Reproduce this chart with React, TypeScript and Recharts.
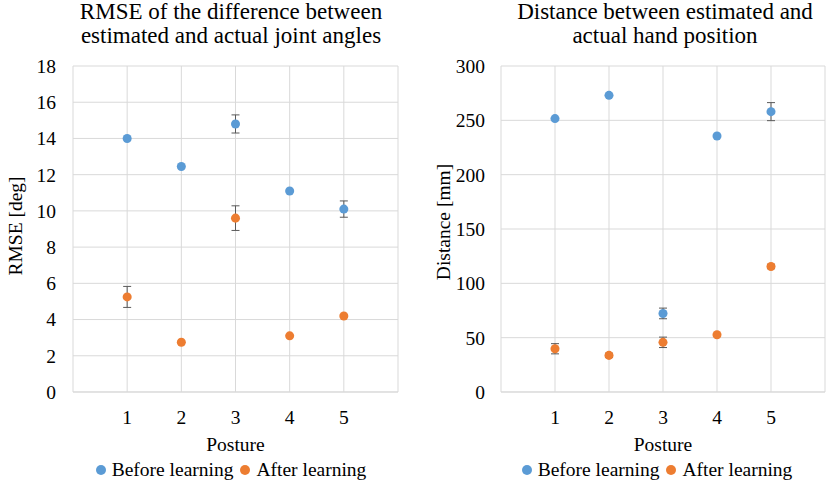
import {
  CartesianGrid,
  ErrorBar,
  Legend,
  Scatter,
  ScatterChart,
  XAxis,
  YAxis,
  ZAxis,
} from "recharts";

const postures = [1, 2, 3, 4, 5];
const xTicks = [0, 1, 2, 3, 4, 5, 6];

const rmseTicks = [0, 2, 4, 6, 8, 10, 12, 14, 16, 18];
const rmseBefore = [14.0, 12.45, 14.8, 11.1, 10.1];
const rmseBeforeErr = [0, 0, 0.5, 0, 0.45];
const rmseAfter = [5.25, 2.75, 9.6, 3.1, 4.2];
const rmseAfterErr = [0.58, 0, 0.68, 0, 0];

const distTicks = [0, 50, 100, 150, 200, 250, 300];
const distBefore = [251.6, 273, 72.3, 235.6, 258];
const distBeforeErr = [0, 0, 4.9, 0, 8.3];
const distAfter = [39.8, 33.7, 45.7, 52.7, 115.5];
const distAfterErr = [4.7, 2, 4.8, 0, 2];

const BLUE = "#5B9BD5";
const ORANGE = "#ED7D31";
const GRID = "#D9D9D9";
const FONT = "Liberation Serif, Times New Roman, serif";
const TEXT = 19.5;

function toPoints(values: number[], errors: number[]) {
  return postures.map((x, i) => ({ x, y: values[i], err: errors[i] }));
}

function LegendContent() {
  const items = [
    { label: "Before learning", color: BLUE },
    { label: "After learning", color: ORANGE },
  ];
  return (
    <div
      style={{
        display: "flex",
        justifyContent: "center",
        alignItems: "center",
        fontFamily: FONT,
        fontSize: TEXT,
        lineHeight: "22px",
        color: "#000",
        whiteSpace: "nowrap",
      }}
    >
      {items.map((item, i) => (
        <span
          key={item.label}
          style={{
            display: "flex",
            alignItems: "center",
            marginLeft: i ? 7 : 0,
            fontFamily: FONT,
          }}
        >
          <svg width={10} height={10} style={{ marginRight: 6 }}>
            <circle cx={5} cy={5} r={5} fill={item.color} />
          </svg>
          {item.label}
        </span>
      ))}
    </div>
  );
}

type PanelProps = {
  yLabel: string;
  yTicks: number[];
  yMax: number;
  yAxisWidth: number;
  rightMargin: number;
  tickGap: number;
  labelX: number;
  labelShift: number;
  legendLeft: number;
  before: { x: number; y: number; err: number }[];
  after: { x: number; y: number; err: number }[];
};

function Panel(props: PanelProps) {
  const tick = { fontFamily: FONT, fontSize: TEXT, fill: "#000" };

  const renderYLabel = (p: any) => {
    const vb = p.viewBox || { x: 0, y: 66, width: props.yAxisWidth, height: 326 };
    const x = vb.x + props.labelX;
    const y = vb.y + vb.height / 2 - props.labelShift;
    return (
      <text
        x={x}
        y={y}
        transform={`rotate(-90, ${x}, ${y})`}
        textAnchor="middle"
        style={{ fontFamily: FONT, fontSize: TEXT }}
        fill="#000"
      >
        {props.yLabel}
      </text>
    );
  };

  const renderXLabel = (p: any) => {
    const vb = p.viewBox || { x: props.yAxisWidth, y: 392, width: 325, height: 93 };
    return (
      <text
        x={vb.x + vb.width / 2}
        y={vb.y + 58.5}
        textAnchor="middle"
        style={{ fontFamily: FONT, fontSize: TEXT }}
        fill="#000"
      >
        Posture
      </text>
    );
  };

  return (
    <ScatterChart
      width={415}
      height={485}
      margin={{ top: 66, right: props.rightMargin, bottom: 0, left: 0 }}
      style={{ fontFamily: FONT }}
    >
      <CartesianGrid stroke={GRID} strokeWidth={1} />
      <XAxis
        type="number"
        dataKey="x"
        domain={[0, 6]}
        ticks={xTicks}
        interval={0}
        tickFormatter={(v: number) => (v === 0 || v === 6 ? "" : String(v))}
        axisLine={{ stroke: GRID }}
        tickLine={false}
        tickSize={0}
        tickMargin={18}
        height={93}
        tick={tick}
        label={{ value: "Posture", content: renderXLabel }}
      />
      <YAxis
        type="number"
        dataKey="y"
        domain={[0, props.yMax]}
        ticks={props.yTicks}
        interval={0}
        axisLine={false}
        tickLine={false}
        tickSize={0}
        tickMargin={props.tickGap}
        width={props.yAxisWidth}
        tick={tick}
        label={{ value: props.yLabel, content: renderYLabel }}
      />
      <ZAxis range={[88, 88]} />
      <Legend
        layout="horizontal"
        verticalAlign="middle"
        align="center"
        content={<LegendContent />}
        wrapperStyle={{ left: props.legendLeft, top: 459, width: 380, fontFamily: FONT }}
      />
      <Scatter
        name="Before learning"
        data={props.before}
        fill={BLUE}
        isAnimationActive={false}
      >
        <ErrorBar
          dataKey="err"
          direction="y"
          width={4}
          stroke="#595959"
          strokeWidth={1}
          isAnimationActive={false}
        />
      </Scatter>
      <Scatter
        name="After learning"
        data={props.after}
        fill={ORANGE}
        isAnimationActive={false}
      >
        <ErrorBar
          dataKey="err"
          direction="y"
          width={4}
          stroke="#595959"
          strokeWidth={1}
          isAnimationActive={false}
        />
      </Scatter>
    </ScatterChart>
  );
}

function Title({ lines, center }: { lines: string[]; center: number }) {
  return (
    <div
      style={{
        position: "absolute",
        top: 0,
        left: center - 210,
        width: 420,
        textAlign: "center",
        fontSize: 23,
        lineHeight: "24px",
        color: "#000",
        zIndex: 1,
      }}
    >
      {lines.map((l) => (
        <div key={l}>{l}</div>
      ))}
    </div>
  );
}

export default function App() {
  return (
    <div
      style={{
        position: "absolute",
        left: 0,
        top: 0,
        width: 830,
        height: 485,
        background: "#fff",
        overflow: "hidden",
        fontFamily: FONT,
      }}
    >
      <div style={{ position: "absolute", left: 0, top: 0 }}>
        <Panel
          yLabel="RMSE [deg]"
          yTicks={rmseTicks}
          yMax={18}
          yAxisWidth={73}
          rightMargin={17}
          tickGap={17}
          labelX={22}
          labelShift={3}
          legendLeft={41}
          before={toPoints(rmseBefore, rmseBeforeErr)}
          after={toPoints(rmseAfter, rmseAfterErr)}
        />
      </div>
      <div style={{ position: "absolute", left: 415, top: 0 }}>
        <Panel
          yLabel="Distance [mm]"
          yTicks={distTicks}
          yMax={300}
          yAxisWidth={86}
          rightMargin={5}
          tickGap={16}
          labelX={35}
          labelShift={7}
          legendLeft={52}
          before={toPoints(distBefore, distBeforeErr)}
          after={toPoints(distAfter, distAfterErr)}
        />
      </div>
      <Title
        lines={["RMSE of the difference between", "estimated and actual joint angles"]}
        center={231}
      />
      <Title
        lines={["Distance between estimated and", "actual hand position"]}
        center={665}
      />
    </div>
  );
}
